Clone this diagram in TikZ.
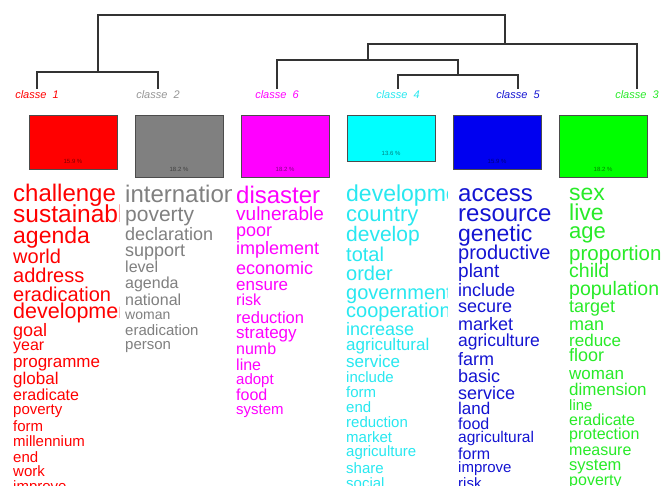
\documentclass[tikz,border=0pt]{standalone}
\usepackage{fontspec}
\setmainfont{Liberation Sans}
\usetikzlibrary{positioning}

\definecolor{cred}{RGB}{255,0,0}
\definecolor{cgray}{RGB}{128,128,128}
\definecolor{cgraylab}{RGB}{150,150,150}
\definecolor{cmag}{RGB}{255,0,255}
\definecolor{ccyan}{RGB}{0,255,255}
\definecolor{ccyantxt}{RGB}{40,232,240}
\definecolor{cblue}{RGB}{0,0,240}
\definecolor{cbluetxt}{RGB}{20,20,210}
\definecolor{cgreen}{RGB}{0,255,0}
\definecolor{cgreentxt}{RGB}{40,235,40}

\tikzset{
  word/.style={anchor=base west, inner sep=0pt},
  classe/.style={anchor=base, inner sep=1pt, font=\fontsize{11}{11}\selectfont\itshape},
  box/.style={draw=black!70, line width=0.9pt, minimum width=88pt, anchor=north, inner sep=0pt},
  pct/.style={font=\fontsize{6}{6}\selectfont, text=black, text opacity=0.5, inner sep=0pt},
  tree/.style={draw=black!80, line width=1.2pt}
}

\begin{document}
\begin{tikzpicture}[x=1pt, y=-1pt]
\fill[white] (0,0) rectangle (671,485);
\useasboundingbox (0,0) rectangle (671,485);

% dendrogram
\node[classe, text=cred] (cl1) at (37,98) {classe~~1};
\node[classe, text=cgraylab] (cl2) at (158,98) {classe~~2};
\node[classe, text=cmag] (cl6) at (277,98) {classe~~6};
\node[classe, text=ccyantxt] (cl4) at (398,98) {classe~~4};
\node[classe, text=cbluetxt] (cl5) at (518,98) {classe~~5};
\node[classe, text=cgreentxt] (cl3) at (637,98) {classe~~3};
\coordinate (j12) at (98,72);
\coordinate (j45) at (458,75);
\coordinate (j645) at (368,60);
\coordinate (jR) at (505,44);
\coordinate (root) at (301,15);
\draw[tree] (cl1.north) |- (j12) -| (cl2.north);
\draw[tree] (cl4.north) |- (j45) -| (cl5.north);
\draw[tree] (cl6.north) |- (j645) -| (j45);
\draw[tree] (j645) |- (jR) -| (cl3.north);
\draw[tree] (j12) |- (root) -| (jR);

% boxes
\node[box, fill=cred, minimum height=54pt] (b1) at (73,115) {};
\node[box, fill=cgray, minimum height=62pt] (b2) at (179,115) {};
\node[box, fill=cmag, minimum height=62pt] (b6) at (285,115) {};
\node[box, fill=ccyan, minimum height=46pt] (b4) at (391,115) {};
\node[box, fill=cblue, minimum height=54pt] (b5) at (497,115) {};
\node[box, fill=cgreen, minimum height=62pt] (b3) at (603,115) {};
\node[pct, above=6pt of b1.south] (p1) {15.9 \%};
\node[pct, above=6pt of b2.south] (p2) {18.2 \%};
\node[pct, above=6pt of b6.south] (p6) {18.2 \%};
\node[pct, above=6pt of b4.south] (p4) {13.6 \%};
\node[pct, above=6pt of b5.south] (p5) {15.9 \%};
\node[pct, above=6pt of b3.south] (p3) {18.2 \%};

% words
\begin{scope}
\clip (10,180) rectangle (119,485);
\foreach \w/\s/\y [count=\i] in {challenge/24/201, sustainable/24.5/222, agenda/23/243,
  world/20/263, address/20/282, eradication/20/301, development/21.5/318, goal/18/336,
  year/16/350, programme/17/367, global/17/384, eradicate/16/400, poverty/15/414,
  form/15/431, millennium/15/446, end/15/462, work/15/476, improve/15/491}
  \node[word, text=cred, font=\fontsize{\s}{\s}\selectfont] (r\i) at (13,\y) {\w};
\end{scope}

\begin{scope}
\clip (123,180) rectangle (231,485);
\foreach \w/\s/\y [count=\i] in {international/24/202, poverty/21/221, declaration/18/240,
  support/18/256, level/16/272, agenda/16/288, national/16/305, woman/14/319,
  eradication/15/335, person/15/349}
  \node[word, text=cgray, font=\fontsize{\s}{\s}\selectfont] (g\i) at (125,\y) {\w};
\end{scope}

\begin{scope}
\clip (233,180) rectangle (343,485);
\foreach \w/\s/\y [count=\i] in {disaster/24/203, vulnerable/19/220, poor/18/236,
  implement/18/254, economic/18/274, ensure/17/290, risk/16/305, reduction/16.5/323,
  strategy/17/338, numb/16/354, line/16/370, adopt/15/384, food/16/400, system/15/414}
  \node[word, text=cmag, font=\fontsize{\s}{\s}\selectfont] (m\i) at (236,\y) {\w};
\end{scope}

\begin{scope}
\clip (344,180) rectangle (447,485);
\foreach \w/\s/\y [count=\i] in {development/23/201, country/22/221, develop/21/241,
  total/20/261, order/20/280, government/20/299, cooperation/20/317, increase/18/335,
  agricultural/17/350, service/17/367, include/15/382, form/15/397, end/15/412,
  reduction/15/427, market/15/442, agriculture/15/456, share/15/473, social/15/488}
  \node[word, text=ccyantxt, font=\fontsize{\s}{\s}\selectfont] (c\i) at (346,\y) {\w};
\end{scope}

\begin{scope}
\clip (455,180) rectangle (565,485);
\foreach \w/\s/\y [count=\i] in {access/24/201, resource/24/221, genetic/23/241,
  productive/20/259, plant/19/277, include/18/296, secure/18/312, market/18/330,
  agriculture/17.5/346, farm/18/365, basic/18/382, service/18/399, land/17/414,
  food/16/429, agricultural/15.5/442, form/16/459, improve/15/472, risk/15/488}
  \node[word, text=cbluetxt, font=\fontsize{\s}{\s}\selectfont] (b\i) at (458,\y) {\w};
\end{scope}

\begin{scope}
\clip (566,180) rectangle (671,485);
\foreach \w/\s/\y [count=\i] in {sex/23/200, live/23/220, age/22/238, proportion/20.5/260,
  child/19.5/277, population/19.5/295, target/18/312, man/18/330, reduce/17/346,
  floor/18/361, woman/17/379, dimension/17/395, line/15/410, eradicate/16/425,
  protection/16/439, measure/16/455, system/16.5/470, poverty/16/485}
  \node[word, text=cgreentxt, font=\fontsize{\s}{\s}\selectfont] (v\i) at (569,\y) {\w};
\end{scope}
\end{tikzpicture}
\end{document}
